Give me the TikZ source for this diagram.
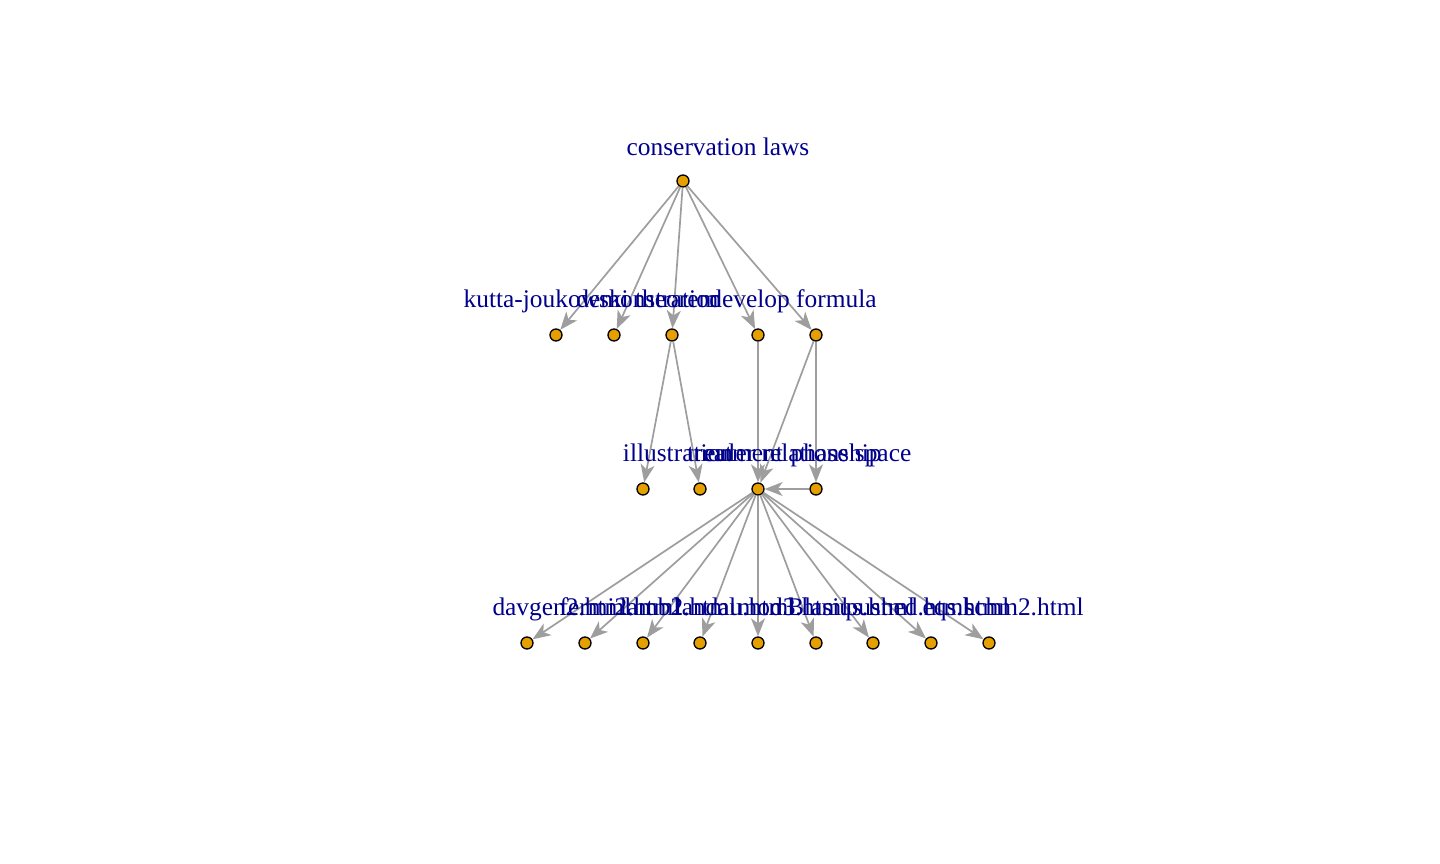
\documentclass[tikz,border=0pt]{standalone}
\usepackage{fontspec}
\setmainfont{Liberation Serif}
\usetikzlibrary{calc,arrows.meta}
\definecolor{vtxfill}{HTML}{E69F00}
\definecolor{edgegray}{HTML}{9E9E9E}
\definecolor{lblblue}{HTML}{00008B}
\tikzset{
  vtx/.style={circle, draw=black, line width=1.3pt, fill=vtxfill, minimum size=12pt, inner sep=0pt},
  lbl/.style={anchor=base, text=lblblue, inner sep=0pt, font=\fontsize{25.4}{28}\selectfont},
  edge/.style={draw=edgegray, line width=1.7pt, -{Stealth[length=18pt, width=14pt, inset=5pt]}}
}
\begin{document}
\begin{tikzpicture}[x=1pt, y=-1pt]
			%%%%% START %%%%%
			\useasboundingbox (0, 0) rectangle (1440, 864);
			
			\node[vtx] (root) at (683, 181) {};
			
			\node[vtx] (kutta) at (556, 335) {};
			\node[vtx] (demo) at (614, 335) {};
			\node[vtx] (thm) at (672, 335) {};
			\node[vtx] (develop) at (758, 335) {};
			\node[vtx] (formula) at (816, 335) {};
			
			\node[vtx] (illus) at (643, 489) {};
			\node[vtx] (treat) at (700, 489) {};
			\node[vtx] (euler) at (758, 489) {};
			\node[vtx] (phase) at (816, 489) {};
			
			\node[vtx] (davgen) at (527, 643) {};
			\node[vtx] (fermi) at (585, 643) {};
			\node[vtx] (lamb) at (643, 643) {};
			\node[vtx] (landau) at (700, 643) {};
			\node[vtx] (mod) at (758, 643) {};
			\node[vtx] (blasius) at (816, 643) {};
			\node[vtx] (pushed) at (873, 643) {};
			\node[vtx] (eqs) at (931, 643) {};
			\node[vtx] (schm) at (989, 643) {};
			
			\draw[edge] (root) -- (kutta);
			\draw[edge] (root) -- (demo);
			\draw[edge] (root) -- (thm);
			\draw[edge] (root) -- (develop);
			\draw[edge] (root) -- (formula);
			
			\draw[edge] (thm) -- (illus);
			\draw[edge] (thm) -- (treat);
			\draw[edge] (develop) -- (euler);
			\draw[edge] (formula) -- (euler);
			\draw[edge] (formula) -- (phase);
			\draw[edge] (phase) -- (euler);
			
			\draw[edge] (euler) -- (davgen);
			\draw[edge] (euler) -- (fermi);
			\draw[edge] (euler) -- (lamb);
			\draw[edge] (euler) -- (landau);
			\draw[edge] (euler) -- (mod);
			\draw[edge] (euler) -- (blasius);
			\draw[edge] (euler) -- (pushed);
			\draw[edge] (euler) -- (eqs);
			\draw[edge] (euler) -- (schm);
			
			\node[lbl] (root-l) at ($(root)+(35,-25)$) {conservation laws};
			
			\node[lbl] (kutta-l) at ($(kutta)+(35,-28)$) {kutta-joukowski theorem};
			\node[lbl] (demo-l) at ($(demo)+(35,-28)$) {demonstration};
			\node[lbl] (develop-l) at ($(develop)+(35,-28)$) {develop formula};
			
			\node[lbl] (illus-l) at ($(illus)+(35,-28)$) {illustration};
			\node[lbl] (treat-l) at ($(treat)+(35,-28)$) {treatment};
			\node[lbl] (euler-l) at ($(euler)+(35,-28)$) {euler relationship};
			\node[lbl] (phase-l) at ($(phase)+(35,-28)$) {phase space};
			
			\node[lbl] (davgen-l) at ($(davgen)+(35,-28)$) {davgen2.html};
			\node[lbl] (fermi-l) at ($(fermi)+(35,-28)$) {fermi2.html};
			\node[lbl] (lamb-l) at ($(lamb)+(35,-28)$) {lamb2.html};
			\node[lbl] (landau-l) at ($(landau)+(35,-28)$) {landau.html};
			\node[lbl] (mod-l) at ($(mod)+(35,-28)$) {mod3.html};
			\node[lbl] (blasius-l) at ($(blasius)+(35,-28)$) {Blasius.html};
			\node[lbl] (pushed-l) at ($(pushed)+(35,-28)$) {pushed.html};
			\node[lbl] (eqs-l) at ($(eqs)+(35,-28)$) {eqs.html};
			\node[lbl] (schm-l) at ($(schm)+(35,-28)$) {schm2.html};
			
			%%%%% END %%%%%
\end{tikzpicture}
\end{document}
